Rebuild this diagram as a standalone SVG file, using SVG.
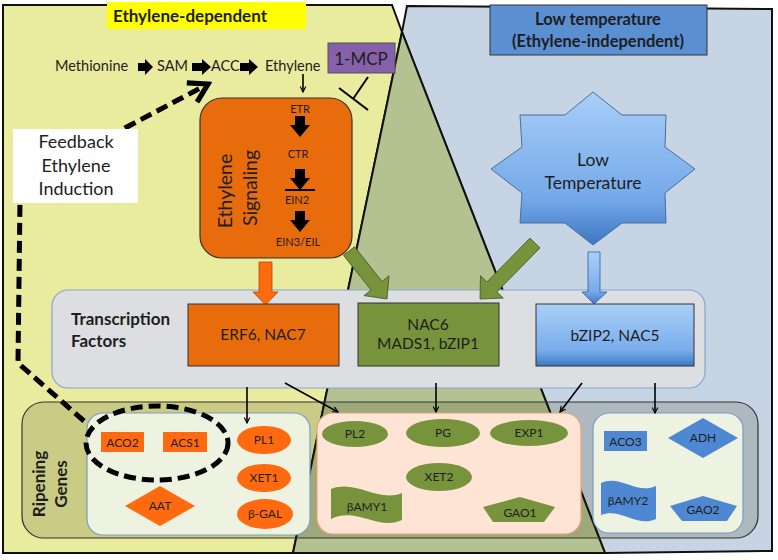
<svg xmlns="http://www.w3.org/2000/svg" width="778" height="560" viewBox="0 0 778 560">
<defs>
<style>
text{font-family:Lato,"Liberation Sans",sans-serif;fill:#1e1e1e}
.b{font-weight:bold}
.c{text-anchor:middle}
.conn{fill:none;stroke:#000;stroke-width:1.6}
.org{fill:#ff6a10}
.grn{fill:#77933c}
.blu{fill:#4f88d2}
.g{font-size:12px}
</style>
<linearGradient id="gBlue" x1="0" y1="0" x2="0" y2="1">
<stop offset="0" stop-color="#aad0f8"/>
<stop offset="0.75" stop-color="#79acec"/>
<stop offset="1" stop-color="#3c79c4"/>
</linearGradient>
<linearGradient id="gStar" x1="0" y1="0" x2="0" y2="1">
<stop offset="0" stop-color="#a8cff8"/>
<stop offset="0.7" stop-color="#74a8e8"/>
<stop offset="1" stop-color="#3b77c2"/>
</linearGradient>
<marker id="ah" viewBox="0 0 10 10" refX="9" refY="5" markerWidth="7" markerHeight="7" markerUnits="userSpaceOnUse" orient="auto">
<path d="M1,1 L9,5 L1,9" fill="none" stroke="#000" stroke-width="1.6"/>
</marker>
<marker id="ahd" viewBox="0 0 10 10" refX="8.5" refY="5" markerWidth="26" markerHeight="26" markerUnits="userSpaceOnUse" orient="auto">
<path d="M1.5,0.8 L8.5,5 L1.5,9.2" fill="none" stroke="#000" stroke-width="2"/>
</marker>
</defs>

<!-- background regions -->
<g id="regions">
<polygon points="3,5 392,5 402,32 293,553 3,553" fill="#e9eb9f" stroke="#111" stroke-width="2"/>
<polygon points="407,6 772,9 772,551 605,553 402,32" fill="#c6d4e4" stroke="#111" stroke-width="2"/>
<polygon points="402,32 293,553 605,553" fill="#b4c291" stroke="#111" stroke-width="2"/>
</g>

<g id="label-ethylene-dependent">
<rect x="107" y="2" width="199" height="27" fill="#ffff00"/>
<text class="b c" x="190" y="22" font-size="17">Ethylene-dependent</text>
</g>

<g id="label-low-temperature">
<rect x="490" y="5" width="217" height="50" fill="#5a8fd2" stroke="#333" stroke-width="1"/>
<text class="b c" x="598" y="25" font-size="16.5">Low temperature</text>
<text class="b c" x="598" y="47" font-size="16.5">(Ethylene-independent)</text>
</g>

<g id="pathway">
<text x="55" y="71" font-size="14.5">Methionine</text>
<text x="157" y="71" font-size="14.5">SAM</text>
<text x="211" y="71" font-size="14.5">ACC</text>
<text x="265" y="71" font-size="14.5">Ethylene</text>
<polygon points="138,63 145,63 145,59 153,67 145,75 145,71 138,71" fill="#000"/>
<polygon points="192,63 202,63 202,59 211,67 202,75 202,71 192,71" fill="#000"/>
<polygon points="240,63 249,63 249,59 258,67 249,75 249,71 240,71" fill="#000"/>
</g>

<g id="mcp">
<rect x="328" y="43" width="67" height="30" fill="#8461aa" stroke="#555" stroke-width="1"/>
<text class="c" x="361" y="65" font-size="17">1-MCP</text>
</g>

<g id="signaling">
<rect x="200" y="98" width="152" height="160" rx="22" fill="#e96c0c" stroke="#333" stroke-width="1.2"/>
<text class="c" transform="translate(232,191) rotate(-90)" font-size="19.5">Ethylene</text>
<text class="c" transform="translate(257,188) rotate(-90)" font-size="19.5">Signaling</text>
<text class="c" x="300" y="113" font-size="11">ETR</text>
<text class="c" x="298" y="158" font-size="11">CTR</text>
<text class="c" x="297" y="204" font-size="11">EIN2</text>
<text class="c" x="298" y="246" font-size="11">EIN3/EIL</text>
<polygon points="295,116 305,116 305,125 310,125 300,137 290,125 295,125" fill="#000"/>
<polygon points="295,169 305,169 305,178 310,178 300,190 290,178 295,178" fill="#000"/>
<line x1="285" y1="190" x2="315" y2="190" stroke="#000" stroke-width="2"/>
<polygon points="295,211 305,211 305,220 310,220 300,232 290,220 295,220" fill="#000"/>
</g>

<g id="star">
<polygon points="593,92 622,115 666,115 665,147 695,169 665,193 666,223 622,223 593,245 565,223 520,223 522,193 491,169 522,147 520,115 565,115" fill="url(#gStar)" stroke="#4a6f9a" stroke-width="1"/>
<text class="c" x="593" y="166" font-size="17.5">Low</text>
<text class="c" x="593" y="189" font-size="17.5">Temperature</text>
</g>

<g id="transcription-factors">
<rect x="52" y="290" width="653" height="98" rx="16" fill="#dcdee2" stroke="#86a6cf" stroke-width="1.2"/>
<text class="b" x="71" y="325" font-size="17">Transcription</text>
<text class="b" x="71" y="347" font-size="17">Factors</text>
</g>

<g id="big-arrows">
<polygon points="259,262 272,262 272,292 278,292 265.5,305 253,292 259,292" fill="#ff6a10" stroke="#b04a00" stroke-width="0.8"/>
<polygon points="354.5,246.7 382,281.4 389,275.8 387,299 364,295.6 371,290 343.5,255.3" fill="#77933c" stroke="#3f5220" stroke-width="0.8"/>
<polygon points="530,238.1 486.9,282 480.5,275.7 480,299 503.3,298.1 496.9,291.8 540,247.9" fill="#77933c" stroke="#3f5220" stroke-width="0.8"/>
<polygon points="588,252 600,252 600,292 607,292 594,304 582,292 588,292" fill="url(#gBlue)" stroke="#2f5f9a" stroke-width="0.8"/>
</g>

<g id="erf6">
<rect x="188" y="304" width="151" height="62" fill="#e96c0c" stroke="#333" stroke-width="1"/>
<text class="c" x="263" y="340" font-size="15.5">ERF6, NAC7</text>
</g>
<g id="nac6">
<rect x="358" y="303" width="141" height="63" fill="#77933c" stroke="#333" stroke-width="1"/>
<text class="c" x="428" y="330" font-size="15.5">NAC6</text>
<text class="c" x="428" y="349" font-size="15.5">MADS1, bZIP1</text>
</g>
<g id="bzip2">
<rect x="536" y="304" width="158" height="62" fill="url(#gBlue)" stroke="#333" stroke-width="1"/>
<text class="c" x="615" y="341" font-size="15.5">bZIP2, NAC5</text>
</g>

<g id="ripening">
<rect x="22" y="402" width="736" height="136" rx="22" fill="#2a2a00" fill-opacity="0.16" stroke="#333" stroke-width="1.2"/>
<text class="b c" transform="translate(45,484) rotate(-90)" font-size="17">Ripening</text>
<text class="b c" transform="translate(67,484) rotate(-90)" font-size="17">Genes</text>
</g>

<g id="genes-ethylene">
<rect x="87" y="413" width="223" height="122" rx="16" fill="#eef2e0" stroke="#7d9cc6" stroke-width="1.2"/>
<rect x="101" y="432" width="43" height="20" class="org"/>
<text class="c g" x="122.5" y="446.5">ACO2</text>
<rect x="163" y="432" width="44" height="20" class="org"/>
<text class="c g" x="185" y="446.5">ACS1</text>
<polygon points="125,506 160,486 195,506 160,526" class="org"/>
<text class="c g" x="160" y="510">AAT</text>
<ellipse cx="264" cy="440" rx="27" ry="14" class="org"/>
<text class="c g" x="264" y="444">PL1</text>
<ellipse cx="264" cy="478" rx="27" ry="14" class="org"/>
<text class="c g" x="264" y="482">XET1</text>
<ellipse cx="265" cy="514" rx="28" ry="15" class="org"/>
<text class="c g" x="265" y="518">β-GAL</text>
</g>

<g id="genes-shared">
<rect x="317" y="413" width="264" height="121" rx="16" fill="#fde4d5" stroke="#e9a27a" stroke-width="1.2"/>
<ellipse cx="355" cy="434" rx="33" ry="13" class="grn"/>
<text class="c g" x="355" y="438">PL2</text>
<ellipse cx="443" cy="433" rx="37" ry="14" class="grn"/>
<text class="c g" x="443" y="437">PG</text>
<ellipse cx="529" cy="433" rx="39" ry="13" class="grn"/>
<text class="c g" x="529" y="437">EXP1</text>
<ellipse cx="439" cy="477" rx="33" ry="14" class="grn"/>
<text class="c g" x="439" y="481">XET2</text>
<path d="M331,489 C356,479 378,503 402,493 L402,520 C378,531 356,506 331,519 Z" class="grn"/>
<text class="c g" x="367" y="511">βAMY1</text>
<polygon points="520,497 555,507 544,522 493,522 483,507" class="grn"/>
<text class="c g" x="520" y="517">GAO1</text>
</g>

<g id="genes-lowtemp">
<rect x="593" y="413" width="150" height="120" rx="16" fill="#eef2e0" stroke="#7d9cc6" stroke-width="1.2"/>
<rect x="604" y="431" width="43" height="20" class="blu"/>
<text class="c g" x="625.5" y="445.5">ACO3</text>
<polygon points="668,438 703,418 738,438 703,458" class="blu"/>
<text class="c g" x="703" y="442">ADH</text>
<path d="M601,483 C620,474 637,495 656,486 L656,519 C637,528 620,507 601,515 Z" class="blu"/>
<text class="c g" x="628" y="505">βAMY2</text>
<polygon points="703,496 737,506 727,521 682,521 670,506" class="blu"/>
<text class="c g" x="703" y="514">GAO2</text>
</g>

<g id="connectors">
<line x1="303" y1="74" x2="303" y2="92" class="conn" marker-end="url(#ah)"/>
<line x1="368" y1="77" x2="353" y2="99" stroke="#000" stroke-width="2"/>
<line x1="339" y1="88" x2="368" y2="110" stroke="#000" stroke-width="2"/>
<line x1="247" y1="387" x2="247" y2="423" class="conn" marker-end="url(#ah)"/>
<line x1="285" y1="383" x2="338" y2="412" class="conn" marker-end="url(#ah)"/>
<line x1="436" y1="383" x2="436" y2="412" class="conn" marker-end="url(#ah)"/>
<line x1="582" y1="383" x2="560" y2="412" class="conn" marker-end="url(#ah)"/>
<line x1="655" y1="383" x2="655" y2="413" class="conn" marker-end="url(#ah)"/>
<path d="M84,421 L18,363 L20,200 L125,128 L208,84" fill="none" stroke="#000" stroke-width="5" stroke-dasharray="12,6" marker-end="url(#ahd)"/>
</g>

<g id="feedback-ellipse">
<ellipse cx="157" cy="443" rx="71" ry="37" fill="none" stroke="#000" stroke-width="5" stroke-dasharray="12,6"/>
</g>

<g id="feedback">
<rect x="13" y="129" width="125" height="74" fill="#fff"/>
<text class="c" x="76" y="148" font-size="18">Feedback</text>
<text class="c" x="76" y="172" font-size="18">Ethylene</text>
<text class="c" x="76" y="195" font-size="18">Induction</text>
</g>
</svg>
